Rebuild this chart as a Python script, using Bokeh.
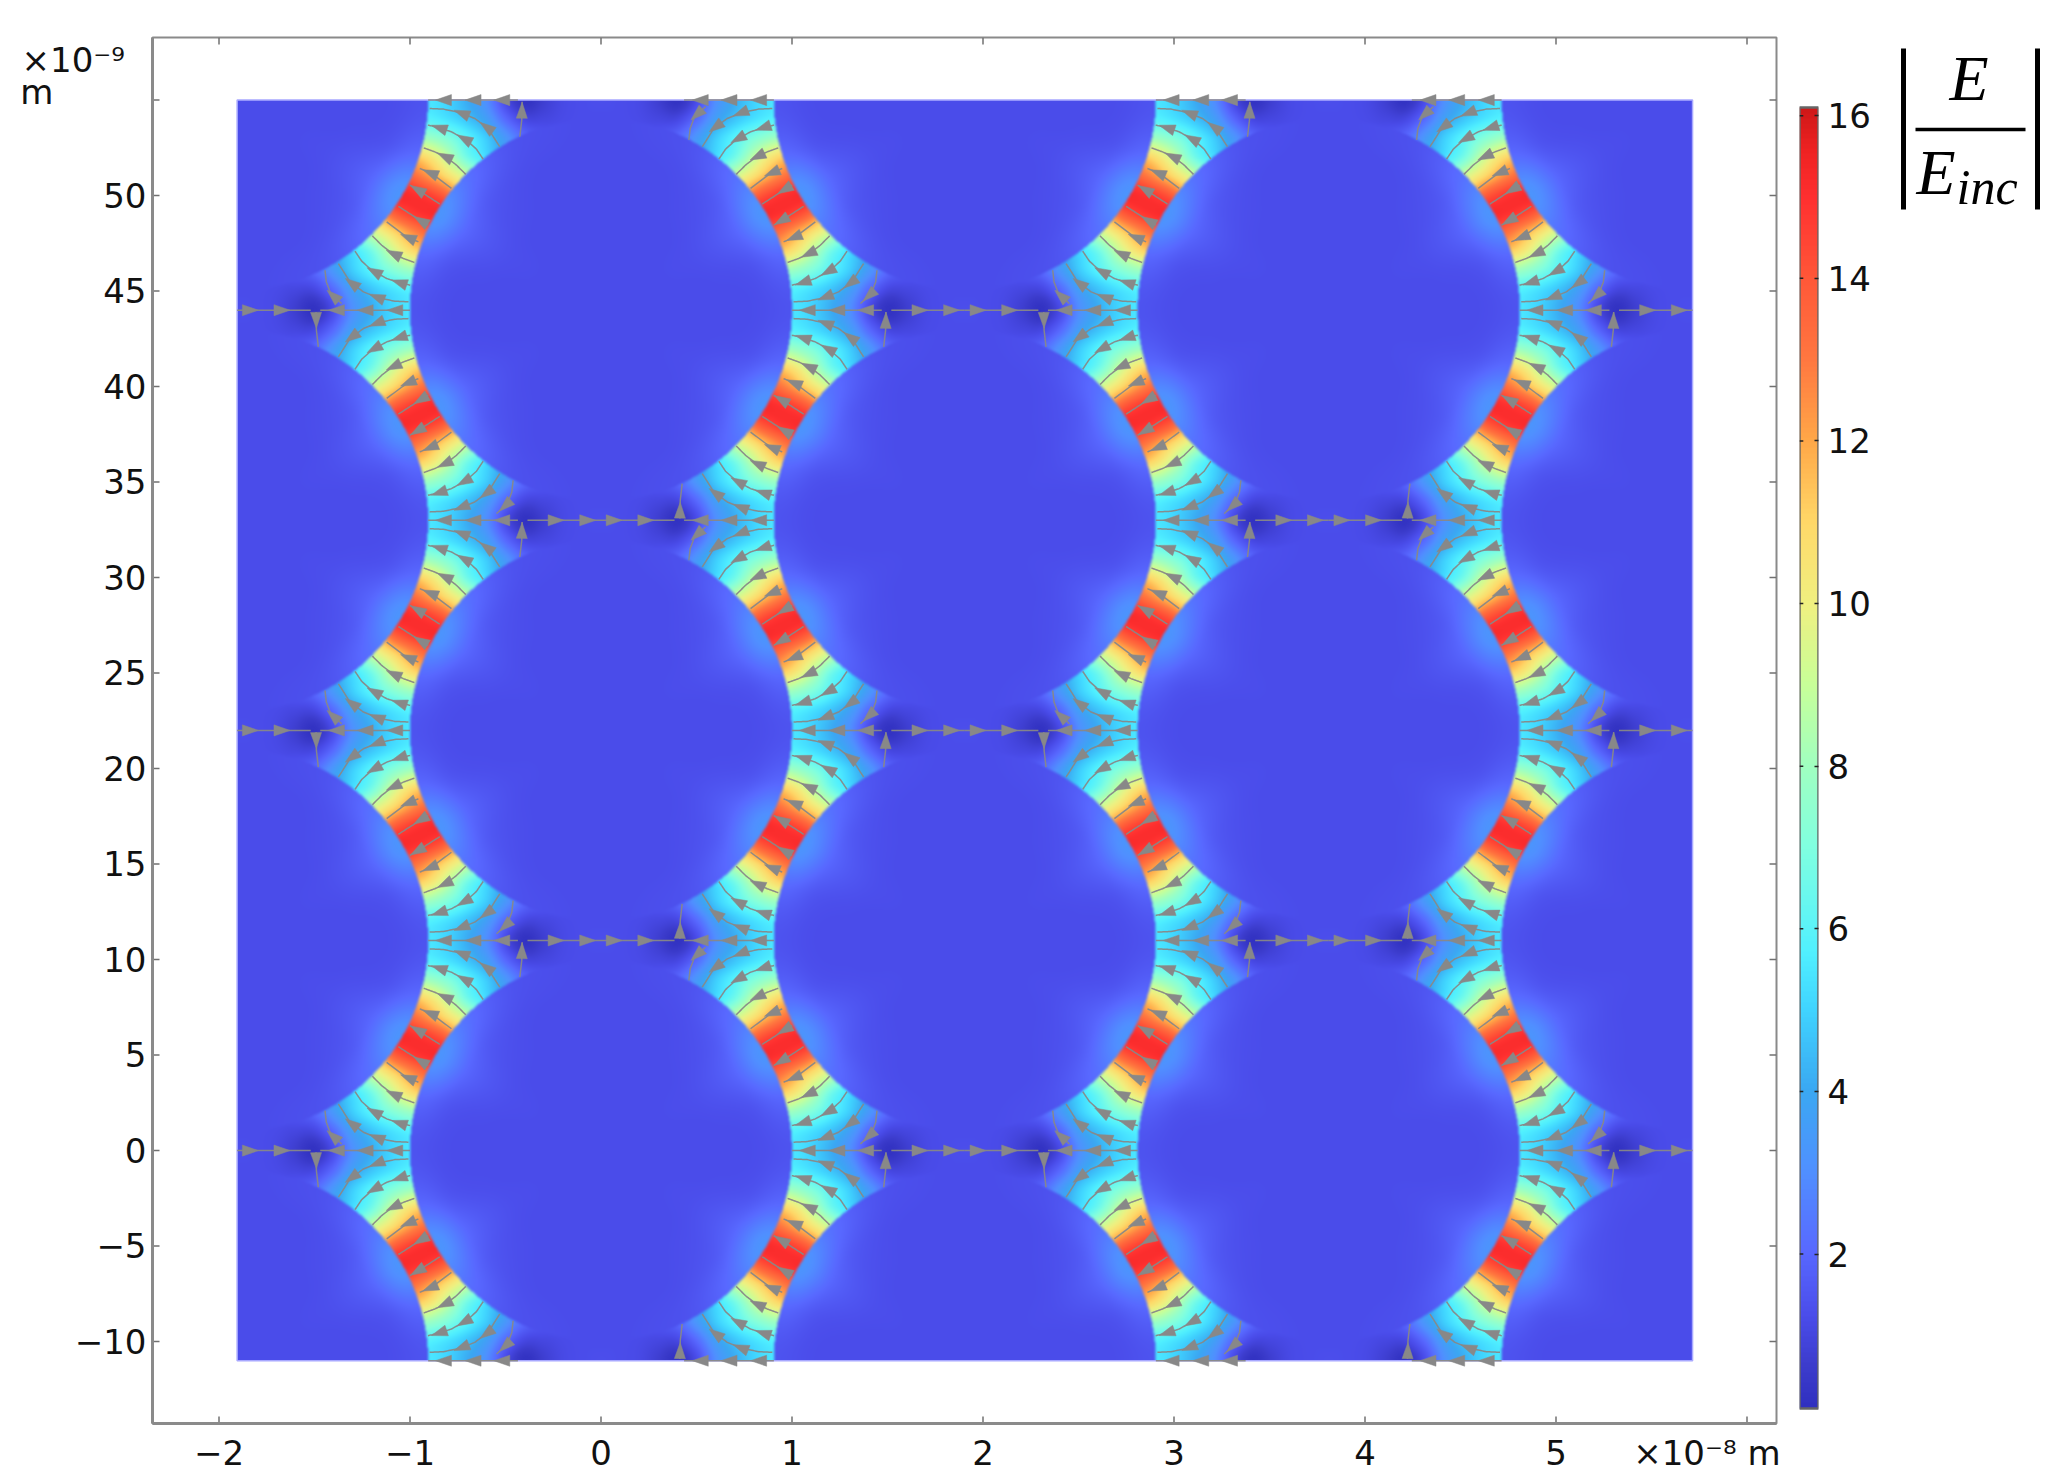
import numpy as np
from bokeh.plotting import figure
from bokeh.layouts import row
from bokeh.models import Range1d, LinearAxis, FixedTicker, LinearColorMapper
from bokeh.embed import file_html
from bokeh.resources import INLINE
from bokeh.core.properties import value

# ---------- axes ----------
x_ticks = [-20, -10, 0, 10, 20, 30, 40, 50, 60]
x_tick_labels = ["−2", "−1", "0", "1", "2", "3", "4", "5"]
y_ticks = [-10, -5, 0, 5, 10, 15, 20, 25, 30, 35, 40, 45, 50, 55]
y_tick_labels = ["−10", "−5", "0", "5", "10", "15", "20", "25", "30", "35", "40", "45", "50"]
cb_ticks = [2, 4, 6, 8, 10, 12, 14, 16]
x_unit_label = "×10⁻⁸ m"
y_unit_label = "×10⁻⁹"
y_unit_name = "m"

# ---------- geometry (nm) ----------
pitch_x = 19.05
pitch_y = 11.0
domain_x = [-pitch_x, 3 * pitch_x]
domain_y = [-11.0, 55.0]
radius = 10.0

# ---------- colour scale ----------
cb_values = [0.1, 0.6, 1.2, 2.0, 3.0, 4.0, 5.0, 5.7, 7.0, 8.0, 9.0, 10.0, 11.0, 12.0, 13.0, 14.0, 15.0, 15.6, 16.1]
cb_colors = ["#3030c0", "#3c3ccc", "#4a4cea", "#5868ff", "#5090ff", "#3aa8f2", "#40d4ff", "#50f0ff",
             "#80ffe0", "#a0ffc0", "#c8ff98", "#f0f080", "#ffd868", "#ffa848", "#ff7840", "#ff5838",
             "#ff3030", "#ee2222", "#d01818"]

# ---------- |E/Einc| read in the air between spheres: rows y = 0..5 nm, columns x = 8..19 nm ----------
air_y0 = [5.9, 5.7, 5.5, 5.0, 4.1, 3.0, 1.2, 0.2, 0.7, 1.1, 1.2, 1.25]
air_y1 = [6.2, 6.0, 5.8, 5.3, 4.6, 3.6, 2.0, 1.0, 1.0, 1.15, 1.2, 1.2]
air_y2 = [8.5, 8.0, 7.8, 7.0, 5.9, 4.8, 3.3, 2.0, 1.5, 1.3, 1.2, 1.2]
air_y3 = [12.0, 11.5, 10.5, 8.8, 6.6, 5.2, 3.8, 2.4, 1.6, 1.3, 1.2, 1.2]
air_y4 = [14.6, 13.6, 12.3, 10.6, 9.0, 6.5, 4.5, 2.8, 1.8, 1.4, 1.2, 1.2]
air_y5 = [15.3, 15.1, 14.6, 13.4, 10.5, 8.0, 5.5, 3.2, 2.0, 1.5, 1.3, 1.2]

# ---------- |E/Einc| read inside a sphere: rows angle 0..90 by 15 deg, columns depth 0..10 by 2 nm ----------
core_a0 = [1.4, 1.22, 1.2, 1.2, 1.2, 1.2]
core_a15 = [1.9, 1.35, 1.22, 1.2, 1.2, 1.2]
core_a30 = [3.2, 1.9, 1.35, 1.22, 1.2, 1.2]
core_a45 = [2.2, 1.5, 1.25, 1.2, 1.2, 1.2]
core_a60 = [1.45, 1.25, 1.2, 1.2, 1.2, 1.2]
core_a75 = [1.25, 1.2, 1.2, 1.2, 1.2, 1.2]
core_a90 = [1.2, 1.2, 1.2, 1.2, 1.2, 1.2]

# ---------- streamlines read beside one sphere (nm from its centre), ordered along the field ----------
line_1 = [(13.75, 2.44), (13.58, 2.18), (13.14, 1.48), (12.44, 0.96), (11.66, 0.65), (10.79, 0.47), (10.08, 0.44)]
line_2 = [(12.88, 3.09), (12.53, 2.57), (12.00, 2.09), (11.22, 1.66), (10.52, 1.43), (9.99, 1.31)]
line_3 = [(11.97, 3.89), (11.48, 3.40), (10.96, 3.00), (10.35, 2.71), (9.77, 2.50)]
line_4 = [(11.22, 4.62), (10.18, 3.84), (9.56, 3.58)]
line_5 = [(10.61, 5.44), (9.48, 4.71), (9.04, 4.45)]
hook = [(14.45, 2.09), (14.38, 1.48), (14.15, 0.87), (13.58, 0.35)]
stem = [(14.80, -1.92), (14.90, -1.05), (14.92, -0.09)]
mid_in = [(14.70, 0.0), (10.0, 0.0)]
mid_out = [(15.20, 0.0), (19.05, 0.0)]
# position of the arrowheads along each line (fraction of its length)
arrows_1, arrows_2, arrows_3, arrows_4, arrows_5 = [0.28, 0.62], [0.42, 0.83], [0.55], [0.70], [0.75]
arrows_hook, arrows_stem = [0.70], [0.76]
arrows_mid_in, arrows_mid_out = [0.18, 0.50, 0.83], [0.39, 0.82]

STREAM_GREY = "#888888"
PX_NM = 19.1
X0, Y0 = 600.5, 1150.1


def X(px):
    return (px - X0) / PX_NM


def Y(py):
    return (Y0 - py) / PX_NM


def hex2rgb(c):
    return [int(c[i:i + 2], 16) for i in (1, 3, 5)]


levels = np.linspace(cb_values[0], cb_values[-1], 256)
rgb = np.array([hex2rgb(c) for c in cb_colors], dtype=float)
palette = ["#%02x%02x%02x" % tuple(int(round(np.interp(v, cb_values, rgb[:, k]))) for k in range(3)) for v in levels]
mapper = LinearColorMapper(palette=palette, low=cb_values[0], high=cb_values[-1])


def smooth_lookup(table, u, v):
    """Catmull-Rom look-up in a table; u, v are fractional row and column numbers. Edges mirror."""
    table = np.asarray(table, dtype=float)
    nu, nv = table.shape
    u0, v0 = np.floor(u).astype(int), np.floor(v).astype(int)
    fu, fv = u - u0, v - v0

    def w(t):
        return [(-t + 2 * t ** 2 - t ** 3) / 2, (2 - 5 * t ** 2 + 3 * t ** 3) / 2,
                (t + 4 * t ** 2 - 3 * t ** 3) / 2, (-t ** 2 + t ** 3) / 2]

    def mirror(i, n):
        return np.where(i < 0, -i, np.where(i > n - 1, 2 * (n - 1) - i, i))

    wu, wv = w(fu), w(fv)
    out = 0.0
    for a in range(4):
        ia = mirror(u0 + a - 1, nu)
        for b in range(4):
            ib = mirror(v0 + b - 1, nv)
            out = out + wu[a] * wv[b] * table[ia, ib]
    return out


# the full cell x = 0..19, y = 0..11: the lower half as read, the upper half by the point symmetry of the lattice
lower = np.array([air_y0, air_y1, air_y2, air_y3, air_y4, air_y5])
lower = np.hstack([np.repeat(lower[:, :1], 8, axis=1), lower])
air_table = np.vstack([lower, lower[::-1, ::-1]])
core_table = np.array([core_a0, core_a15, core_a30, core_a45, core_a60, core_a75, core_a90])

nx, ny = int((domain_x[1] - domain_x[0]) * PX_NM), int((domain_y[1] - domain_y[0]) * PX_NM)
xs = domain_x[0] + (np.arange(nx) + 0.5) * (domain_x[1] - domain_x[0]) / nx
ys = domain_y[0] + (np.arange(ny) + 0.5) * (domain_y[1] - domain_y[0]) / ny
gx, gy = np.meshgrid(xs, ys)
fx = gx % (2 * pitch_x)
fx = np.where(fx > pitch_x, 2 * pitch_x - fx, fx)
fy = gy % (2 * pitch_y)
fy = np.where(fy > pitch_y, 2 * pitch_y - fy, fy)
r1 = np.hypot(fx, fy)
r2 = np.hypot(pitch_x - fx, pitch_y - fy)
rr = np.minimum(r1, r2)
ang = np.where(r1 <= r2, np.degrees(np.arctan2(fy, fx)), np.degrees(np.arctan2(pitch_y - fy, pitch_x - fx)))
air = smooth_lookup(air_table, np.minimum(fy, pitch_y - 1e-6), np.minimum(fx * 19 / pitch_x, 19 - 1e-6))
depth = np.clip(radius - rr, 0, radius - 1e-6)
core = smooth_lookup(core_table, np.minimum(ang / 15.0, 6 - 1e-6), depth / 2.0)
field = np.clip(np.where(rr >= radius, air, core), cb_values[0], cb_values[-1])

# colour the field, then soften it in colour space as the reference raster is soft
channels = np.stack([np.interp(field, cb_values, rgb[:, k]) for k in range(3)], axis=-1)
for _ in range(2):
    padded = np.pad(channels, ((1, 1), (1, 1), (0, 0)), mode="edge")
    channels = sum(padded[1 + a:1 + a + ny, 1 + b:1 + b + nx] for a in (-1, 0, 1) for b in (-1, 0, 1)) / 9.0
rgba = np.zeros((ny, nx), dtype=np.uint32)
view = rgba.view(np.uint8).reshape((ny, nx, 4))
view[..., :3] = np.round(channels).astype(np.uint8)
view[..., 3] = 255


def walk(pts, frac):
    pts = np.asarray(pts, dtype=float)
    seg = np.hypot(*np.diff(pts, axis=0).T)
    s = np.concatenate([[0], np.cumsum(seg)])
    pos = frac * s[-1]
    i = min(np.searchsorted(s, pos, side="right") - 1, len(seg) - 1)
    t = (pos - s[i]) / seg[i]
    p = pts[i] + t * (pts[i + 1] - pts[i])
    return p, (pts[i + 1] - pts[i]) / seg[i]


def inside(px, py):
    return domain_x[0] <= px <= domain_x[1] and domain_y[0] <= py <= domain_y[1]


line_xs, line_ys, head_xs, head_ys = [], [], [], []


def place(pts, fracs, cx, cy, sx, sy):
    """Copy a line beside the sphere at (cx, cy); a mirror in x also turns the line round."""
    P = [(cx + sx * a, cy + sy * b) for a, b in pts]
    if sx < 0:
        P = P[::-1]
        fracs = [1 - f for f in fracs]
    dense = []
    for (ax, ay), (bx, by) in zip(P[:-1], P[1:]):
        for t in np.linspace(0, 1, 12, endpoint=False):
            dense.append((ax + t * (bx - ax), ay + t * (by - ay)))
    dense.append(P[-1])
    run = []
    for q in dense + [None]:
        if q is not None and inside(*q):
            run.append(q)
        else:
            if len(run) > 1:
                line_xs.append([a for a, _ in run])
                line_ys.append([b for _, b in run])
            run = []
    for f in fracs:
        p, u = walk(P, f)
        if not inside(*p):
            continue
        n = np.array([-u[1], u[0]])
        tip, back = p + 0.42 * u, p - 0.42 * u
        a, b = back + 0.29 * n, back - 0.29 * n
        head_xs.append([tip[0], a[0], b[0]])
        head_ys.append([tip[1], a[1], b[1]])


pairs = [(line_1, arrows_1), (line_2, arrows_2), (line_3, arrows_3), (line_4, arrows_4), (line_5, arrows_5)]
for i in range(-2, 5):
    for j in range(-2, 7):
        if (i + j) % 2:
            continue
        cx, cy = i * pitch_x, j * pitch_y
        odd_row = j % 2 == 1
        edge_row = cy in domain_y
        for sx in (1, -1):
            stem_up = sx < 0 and odd_row
            for sy in (1, -1):
                for pts, fr in pairs:
                    place(pts, fr, cx, cy, sx, sy)
            place(mid_in, arrows_mid_in, cx, cy, sx, 1)
            if not edge_row:
                place(mid_out, arrows_mid_out, cx, cy, sx, 1)
            place(stem, arrows_stem, cx, cy, sx, -1 if stem_up else 1)
            place(hook, arrows_hook, cx, cy, sx, -1 if stem_up else 1)

# ---------- main plot ----------
L, R, T, B = 152, 1776, 37, 1423
FIG_H = 1484
p = figure(width=1790, height=FIG_H, output_backend="svg", toolbar_location=None,
           x_range=Range1d(X(L), X(R)), y_range=Range1d(Y(B), Y(T)),
           x_axis_location=None, y_axis_location=None,
           min_border_left=L, min_border_right=1790 - R, min_border_top=T, min_border_bottom=FIG_H - B,
           outline_line_color="#8a8a8a", outline_line_width=2,
           background_fill_color="white", border_fill_color="white")
p.grid.visible = False

p.image_rgba(image=[rgba], x=domain_x[0], y=domain_y[0], dw=domain_x[1] - domain_x[0],
             dh=domain_y[1] - domain_y[0])
p.quad(left=[domain_x[0]], right=[domain_x[1]], bottom=[domain_y[0]], top=[domain_y[1]],
       fill_color=None, line_color="#a8a8ff", line_width=1.5)
p.multi_line(line_xs, line_ys, line_color=STREAM_GREY, line_width=1.5, line_alpha=0.95)
p.patches(head_xs, head_ys, fill_color=STREAM_GREY, line_color=STREAM_GREY, line_width=0.5)

FONT = "DejaVu Sans"
TSIZE = "34px"
TICK_NM = 7 / PX_NM
TICK_COL = "#707070"

# the unit texts sit on label-only ticks of the two axes, which is where the figure can show text outside its frame
X_UNIT_AT = round(X(1706), 1)
Y_UNIT_AT = round(Y(59), 1)
Y_NAME_AT = round(Y(92), 1)
NB = "\u00a0"
x_over = dict(zip(x_ticks, x_tick_labels))
x_over[X_UNIT_AT] = x_unit_label
y_over = dict(zip(y_ticks, y_tick_labels))
y_over[Y_UNIT_AT] = y_unit_label + NB * 2
y_over[Y_NAME_AT] = y_unit_name + NB * 8 + "\u2009"


def make_axis(ticks, overrides, standoff):
    return LinearAxis(ticker=FixedTicker(ticks=ticks), axis_line_color="#8a8a8a", axis_line_width=3,
                      major_tick_line_color=None, major_tick_in=0, major_tick_out=0, minor_tick_line_color=None,
                      major_label_overrides=overrides,
                      major_label_text_font=FONT, major_label_text_font_size=TSIZE,
                      major_label_text_color="#111111", major_label_standoff=standoff)


p.add_layout(make_axis(x_ticks[:-1] + [X_UNIT_AT], x_over, 9), "below")
p.add_layout(make_axis(y_ticks[:-1] + [Y_UNIT_AT, Y_NAME_AT], y_over, 6), "left")

xl, xr, yb, yt = X(L), X(R), Y(B), Y(T)
nxt, nyt = len(x_ticks), len(y_ticks)
for level0, level1 in ((yt, yt - TICK_NM), (yb, yb + TICK_NM)):
    p.segment(x0=x_ticks, x1=x_ticks, y0=[level0] * nxt, y1=[level1] * nxt, line_color=TICK_COL, line_width=1.5)
for level0, level1 in ((xr, xr - TICK_NM), (xl, xl + TICK_NM)):
    p.segment(x0=[level0] * nyt, x1=[level1] * nyt, y0=y_ticks, y1=y_ticks, line_color=TICK_COL, line_width=1.5)

# ---------- colour bar ----------
CB_TOP, CB_BOTTOM = 107, 1408
per_px = (cb_values[-1] - cb_values[0]) / (CB_BOTTOM - CB_TOP)
cb_low = cb_values[0] - (B - CB_BOTTOM) * per_px
cb_high = cb_values[-1] + (CB_TOP - T) * per_px
cb_img = np.linspace(cb_values[0], cb_values[-1], 1300, dtype=np.float32).reshape(-1, 1)
cb = figure(width=100, height=FIG_H, output_backend="svg", toolbar_location=None,
            x_range=Range1d(0, 1), y_range=Range1d(cb_low, cb_high),
            x_axis_location=None, y_axis_location=None,
            min_border_left=9, min_border_right=72, min_border_top=T, min_border_bottom=FIG_H - B,
            outline_line_color=None, border_fill_color="white")
cb.grid.visible = False
cb.image(image=[cb_img], x=0, y=cb_values[0], dw=1, dh=cb_values[-1] - cb_values[0], color_mapper=mapper)
cb.quad(left=[0], right=[1], bottom=[cb_values[0]], top=[cb_values[-1]], fill_color=None,
        line_color="#666666", line_width=2.5)
cb.segment(x0=[0] * len(cb_ticks), x1=[0.2] * len(cb_ticks), y0=cb_ticks, y1=cb_ticks, line_color="#222222", line_width=1.5)
cb.add_layout(LinearAxis(ticker=FixedTicker(ticks=cb_ticks), axis_line_color=None,
                         major_tick_line_color="#222222", major_tick_line_width=1.5,
                         major_tick_in=4, major_tick_out=0, minor_tick_line_color=None,
                         major_label_text_font=FONT, major_label_text_font_size=TSIZE,
                         major_label_text_color="#111111", major_label_standoff=9), "right")

# ---------- formula ----------
fm = figure(width=170, height=FIG_H, output_backend="svg", toolbar_location=None,
            x_range=Range1d(1890, 2060), y_range=Range1d(B, T),
            x_axis_location=None, y_axis_location=None,
            min_border_left=0, min_border_right=0, min_border_top=T, min_border_bottom=FIG_H - B,
            outline_line_color=None, border_fill_color="white")
fm.grid.visible = False
fm.line([1903, 1903], [48, 209], line_color="black", line_width=5)
fm.line([2037, 2037], [48, 209], line_color="black", line_width=5)
fm.line([1915, 2025], [129, 129], line_color="black", line_width=3.5)
SERIF = value("Liberation Serif")
fm.text(x=[1949], y=[78], text=["E"], text_font=SERIF, text_font_style="italic",
        text_font_size="64px", text_color="black", text_baseline="alphabetic")
fm.text(x=[1916], y=[172], text=["E"], text_font=SERIF, text_font_style="italic",
        text_font_size="64px", text_color="black", text_baseline="alphabetic")
fm.text(x=[1956], y=[186], text=["inc"], text_font=SERIF, text_font_style="italic",
        text_font_size="50px", text_color="black", text_baseline="alphabetic")

layout = row(p, cb, fm, spacing=0)
open("out.html", "w").write(file_html(layout, INLINE))
